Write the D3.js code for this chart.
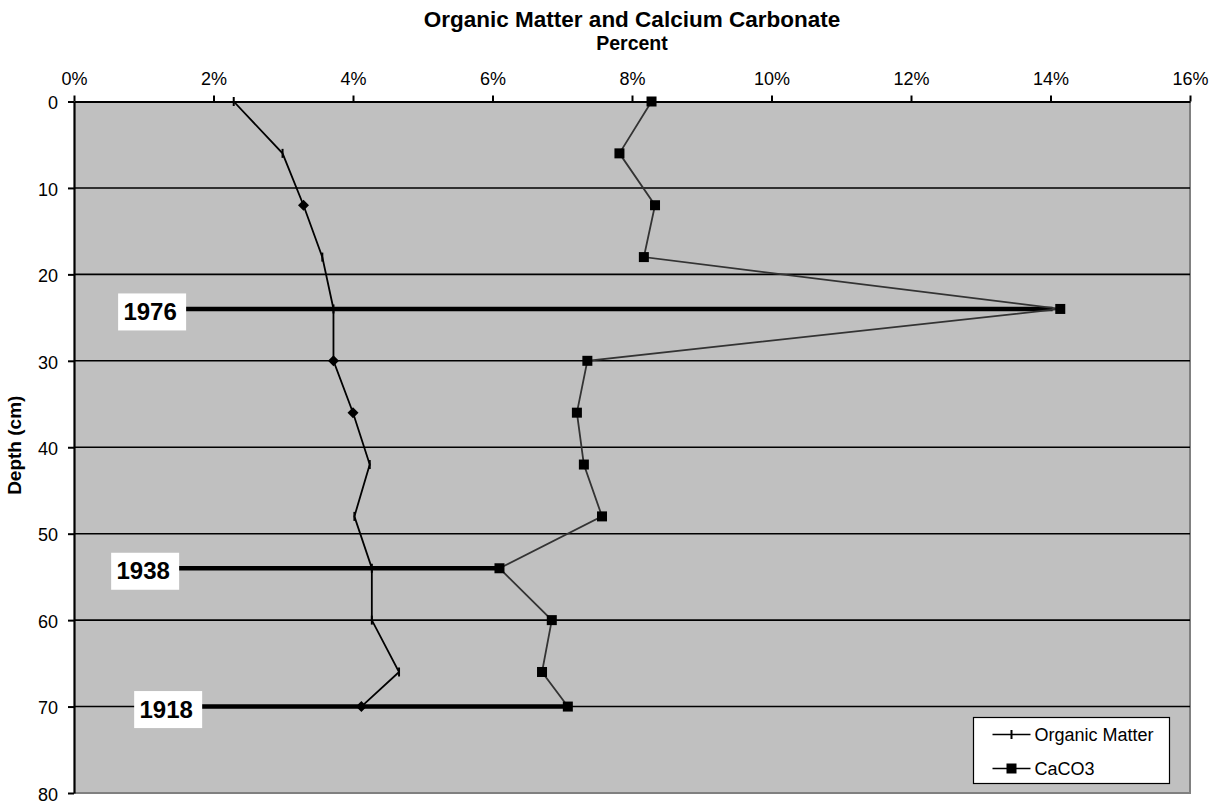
<!DOCTYPE html>
<html>
<head>
<meta charset="utf-8">
<script src="https://cdn.jsdelivr.net/npm/d3@7"></script>
<style>
  html, body { margin: 0; padding: 0; background: #ffffff; }
  svg { display: block; font-family: "Liberation Sans", Arial, sans-serif; }
</style>
</head>
<body>
<svg id="chart" width="1223" height="807"></svg>
<script>
// ---- data ----
const depths = [0, 6, 12, 18, 24, 30, 36, 42, 48, 54, 60, 66, 70];
const organicMatter = [2.29, 2.99, 3.29, 3.56, 3.72, 3.72, 4.00, 4.24, 4.02, 4.27, 4.27, 4.66, 4.12];
const organicMarkers = ["plus", "plus", "diamond", "plus", "plus", "diamond", "diamond", "plus", "plus", "plus", "plus", "plus", "diamond"];
const caco3 = [8.28, 7.82, 8.33, 8.17, 14.14, 7.36, 7.21, 7.31, 7.57, 6.10, 6.85, 6.71, 7.08];
const xTicks = [0, 2, 4, 6, 8, 10, 12, 14, 16];
const yTicks = [0, 10, 20, 30, 40, 50, 60, 70, 80];
const dateYears = ["1976", "1938", "1918"];
const dateDepths = [24, 54, 70];
const dateLabelAt = [1.12, 1.02, 1.35];   // label centre, percent
const dateLineEnd = [14.03, 6.10, 7.08];  // line end, percent
const seriesNames = ["Organic Matter", "CaCO3"];

(function () {
const FONT = "Liberation Sans, Arial, sans-serif";
const svg = d3.select("#chart");
const pL = 74, pR = 1190, pT = 101.5, pB = 793;
const x = d3.scaleLinear().domain([0, 16]).range([pL, pR]);
const y = d3.scaleLinear().domain([0, 80]).range([pT, pB]);

// plot background
svg.append("rect").attr("x", pL).attr("y", pT)
  .attr("width", pR - pL).attr("height", pB - pT)
  .attr("fill", "#c0c0c0");
svg.append("path")
  .attr("d", `M${pR},${pT}V${pB}H${pL}`)
  .attr("fill", "none").attr("stroke", "#808080").attr("stroke-width", 2);

// gridlines
svg.append("g").selectAll("line").data(yTicks.filter(d => d > 0 && d < 80)).join("line")
  .attr("x1", pL).attr("x2", pR)
  .attr("y1", d => y(d)).attr("y2", d => y(d))
  .attr("stroke", "#000").attr("stroke-width", 1.6);

// axes
const xAxis = d3.axisTop(x).tickValues(xTicks).tickFormat(d => d + "%").tickSizeInner(6).tickSizeOuter(0).tickPadding(10.5);
const gx = svg.append("g").attr("transform", `translate(0,${pT})`).call(xAxis);
gx.attr("font-size", 18).attr("font-family", FONT);
gx.select(".domain").attr("stroke", "#000").attr("stroke-width", 2.2);
gx.selectAll(".tick line").attr("stroke", "#000").attr("stroke-width", 2);
gx.selectAll(".tick text").attr("fill", "#000");

const yAxis = d3.axisLeft(y).tickValues(yTicks).tickSizeInner(6).tickSizeOuter(0).tickPadding(10);
const gy = svg.append("g").attr("transform", `translate(${pL},0)`).call(yAxis);
gy.attr("font-size", 18).attr("font-family", FONT);
gy.select(".domain").attr("stroke", "#000").attr("stroke-width", 2.2);
gy.selectAll(".tick line").attr("stroke", "#000").attr("stroke-width", 2);
gy.selectAll(".tick text").attr("fill", "#000").attr("dy", "0.4em");

// date marker lines
const dates = dateYears.map((yr, i) => ({ yr, depth: dateDepths[i], at: dateLabelAt[i], end: dateLineEnd[i] }));
const dg = svg.append("g");
dates.forEach(d => {
  dg.append("line")
    .attr("x1", x(d.at)).attr("x2", x(d.end))
    .attr("y1", y(d.depth)).attr("y2", y(d.depth))
    .attr("stroke", "#000").attr("stroke-width", 4.5);
});

// series
const omData = depths.map((d, i) => ({ depth: d, v: organicMatter[i], m: organicMarkers[i] }));
const caData = depths.map((d, i) => ({ depth: d, v: caco3[i] }));
const line = d3.line().x(d => x(d.v)).y(d => y(d.depth));

svg.append("path").datum(caData).attr("d", line)
  .attr("fill", "none").attr("stroke", "#333").attr("stroke-width", 1.8);
svg.append("g").selectAll("rect").data(caData).join("rect")
  .attr("x", d => x(d.v) - 5).attr("y", d => y(d.depth) - 5)
  .attr("width", 10).attr("height", 10).attr("fill", "#000");

svg.append("path").datum(omData).attr("d", line)
  .attr("fill", "none").attr("stroke", "#000").attr("stroke-width", 1.8);
const omg = svg.append("g");
omData.forEach(d => {
  const cx = x(d.v), cy = y(d.depth);
  if (d.m === "diamond") {
    omg.append("path").attr("d", `M${cx - 5.5},${cy}L${cx},${cy - 5.5}L${cx + 5.5},${cy}L${cx},${cy + 5.5}Z`).attr("fill", "#000");
  } else {
    omg.append("line").attr("x1", cx).attr("x2", cx).attr("y1", cy - 4.5).attr("y2", cy + 4.5)
      .attr("stroke", "#000").attr("stroke-width", 2);
  }
});

// date labels
dates.forEach(d => {
  const cx = x(d.at), cy = y(d.depth);
  svg.append("rect").attr("x", cx - 34).attr("y", cy - 15.5).attr("width", 68).attr("height", 37).attr("fill", "#fff");
  svg.append("text").attr("x", cx - 2).attr("y", cy + 11).attr("text-anchor", "middle")
    .attr("font-family", FONT).attr("font-size", 24).attr("font-weight", "bold").attr("fill", "#000").text(d.yr);
});

// titles
svg.append("text").attr("x", (pL + pR) / 2).attr("y", 27).attr("text-anchor", "middle")
  .attr("font-family", FONT).attr("font-size", 22.5).attr("font-weight", "bold").text("Organic Matter and Calcium Carbonate");
svg.append("text").attr("x", (pL + pR) / 2).attr("y", 50).attr("text-anchor", "middle")
  .attr("font-family", FONT).attr("font-size", 19.5).attr("font-weight", "bold").text("Percent");
svg.append("text").attr("transform", `translate(21,${(pT + pB) / 2 - 2}) rotate(-90)`)
  .attr("text-anchor", "middle").attr("font-family", FONT).attr("font-size", 19).attr("font-weight", "bold").text("Depth (cm)");

// legend
const lg = svg.append("g").attr("transform", "translate(973.5,717.5)");
lg.append("rect").attr("width", 196).attr("height", 66).attr("fill", "#fff")
  .attr("stroke", "#000").attr("stroke-width", 1.2);
seriesNames.forEach((name, i) => {
  const ly = 17 + i * 34;
  lg.append("line").attr("x1", 19).attr("x2", 57).attr("y1", ly).attr("y2", ly)
    .attr("stroke", "#000").attr("stroke-width", 1.6);
  if (i === 0) {
    lg.append("line").attr("x1", 38).attr("x2", 38).attr("y1", ly - 4.5).attr("y2", ly + 4.5)
      .attr("stroke", "#000").attr("stroke-width", 2);
  } else {
    lg.append("rect").attr("x", 33).attr("y", ly - 5).attr("width", 10).attr("height", 10).attr("fill", "#000");
  }
  lg.append("text").attr("x", 61).attr("y", ly + 6.5).attr("font-family", FONT).attr("font-size", 18).attr("fill", "#000").text(name);
});
})();
</script>
</body>
</html>
